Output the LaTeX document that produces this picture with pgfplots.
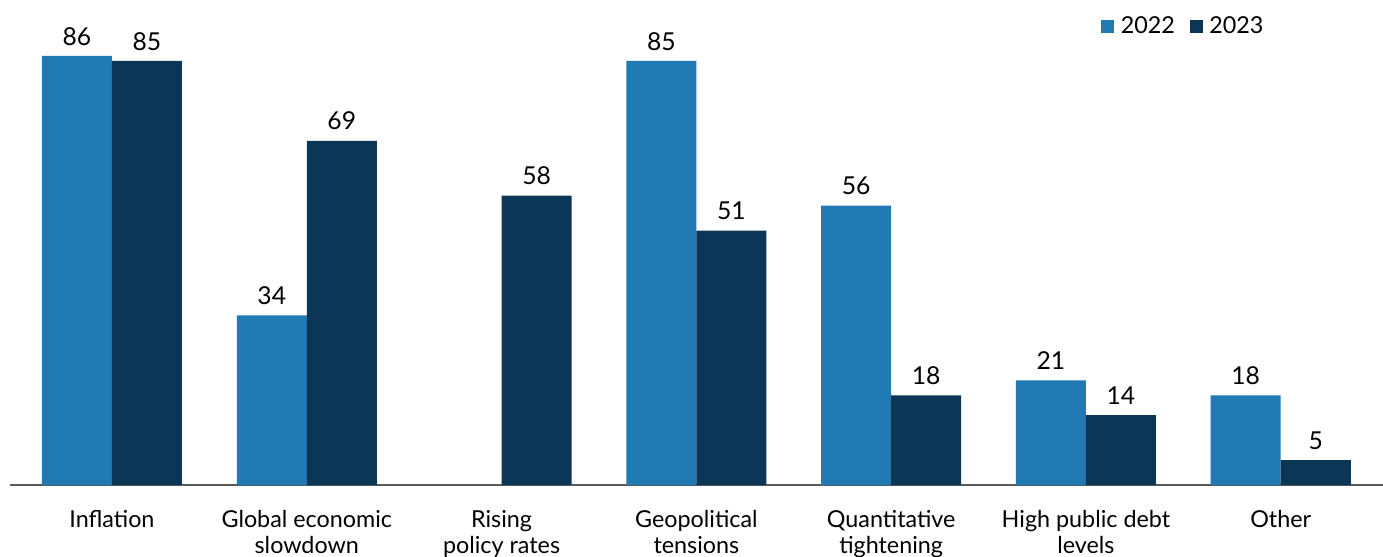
\documentclass[border=0pt]{standalone}
\usepackage{pgfplots}
\pgfplotsset{compat=1.18}
\usepackage{fontspec}
\setmainfont{Lato}
\definecolor{cLight}{RGB}{33,122,180}
\definecolor{cDark}{RGB}{12,54,86}
\definecolor{cAxis}{RGB}{90,90,90}

\begin{document}
\begin{tikzpicture}
\begin{axis}[
  scale only axis,
  width=1029.75pt, height=336.8pt,
  xmin=-0.5236, xmax=6.525,
  ymin=0, ymax=90,
  ybar=0pt, bar width=52.5pt,
  /pgf/number format/assume math mode=true,
  axis y line=none,
  axis x line*=bottom,
  x axis line style={-, draw=cAxis, line width=1.3pt},
  xtick={0,...,6},
  xticklabels={Inflation, Global economic\\slowdown, Rising\\policy rates, Geopolitical\\tensions, Quantitative\\tightening, High public debt\\levels, Other},
  xtick style={draw=none},
  xticklabel style={align=center, font=\fontsize{17.5}{19.5}\selectfont, text depth=0pt, anchor=north, yshift=-11pt},
  clip=false,
  nodes near coords,
  every node near coord/.append style={font=\fontsize{18.5}{21}\selectfont, text=black, yshift=4.5pt},
  legend columns=2,
  legend style={draw=none, fill=none, at={(0.918,1.022)}, anchor=east,
    font=\fontsize{17.5}{21}\selectfont,
    /tikz/every even column/.append style={column sep=9pt}},
  legend image code/.code={\fill[#1] (0pt,-4.9pt) rectangle (9.8pt,4.9pt);},
]
\addplot[fill=cLight, draw=none] coordinates {(0,86) (1,34) (3,85) (4,56) (5,21) (6,18)};
\addplot[fill=cDark, draw=none] coordinates {(0,85) (1,69) (2,58) (3,51) (4,18) (5,14) (6,5)};
\legend{\hspace*{3pt}2022, \hspace*{3pt}2023}
\end{axis}
\pgfresetboundingbox
\path[use as bounding box] ([shift={(-7.5pt,-53.25pt)}]current axis.south west) rectangle ([shift={(0pt,27pt)}]current axis.north east);
\end{tikzpicture}
\end{document}
